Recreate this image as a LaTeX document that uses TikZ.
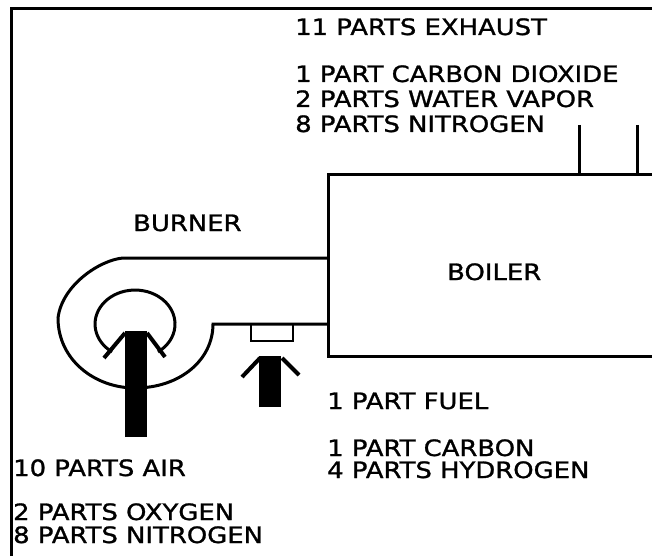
\documentclass[tikz,border=0pt]{standalone}
\usepackage{fontspec}
\setmainfont{DejaVu Sans}[FakeStretch=1.15,FakeBold=1.2]
\usepackage{tikz}

\begin{document}
\begin{tikzpicture}[x=1pt,y=-1pt,
  wall/.style={line width=3pt},
  box line/.style={line width=2.5pt},
  shaft/.style={line width=22pt},
  barb/.style={line width=4pt},
  label text/.style={anchor=base west,inner sep=0pt,font=\fontsize{22.5}{26}\selectfont}]
  \useasboundingbox (0,0) rectangle (652,556);

  % frame
  \draw[wall] (11,556) -- (11,9) -- (652,9);

  % boiler and stacks
  \coordinate (boiler nw) at (328,174);
  \coordinate (boiler sw) at (328,356);
  \coordinate (stack a) at (579,125);
  \coordinate (stack b) at (637,125);
  \draw[wall] (652,174) -- (boiler nw) -- (boiler sw) -- (652,356);
  \draw[wall] (stack a) -- (stack a |- boiler nw);
  \draw[wall] (stack b) -- (stack b |- boiler nw);

  % burner
  \coordinate (duct top) at (328,258);
  \coordinate (duct bottom) at (328,324);
  \draw[wall] (duct top) -- (123,258)
    .. controls (100,260) and (62,285) .. (58,318)
    .. controls (58,360) and (95,388) .. (135,388)
    .. controls (180,388) and (213,360) .. (213,324) -- (duct bottom);
  \draw[wall] (112.1,351.9) arc[start angle=125,end angle=415,x radius=40,y radius=34];
  \draw[box line] (251,324) rectangle (293,341);

  % feed arrows
  \coordinate (air tip) at (136,331);
  \coordinate (air base) at (136,437);
  \coordinate (fuel tip) at (270,356);
  \coordinate (fuel base) at (270,407);
  \draw[shaft] (air base) -- (air tip);
  \draw[barb] ([shift={(-11,2)}]air tip) -- ++(-21,25);
  \draw[barb] ([shift={(11,2)}]air tip) -- ++(18,24);
  \draw[shaft] (fuel base) -- (fuel tip);
  \draw[barb] ([shift={(-10,2)}]fuel tip) -- ++(-18,19);
  \draw[barb] ([shift={(12,2)}]fuel tip) -- ++(17,17);

  \node[label text] (exhaust) at (295,35) {11 PARTS EXHAUST};
  \node[label text] (dioxide) at (295,82) {1 PART CARBON DIOXIDE};
  \node[label text] (vapor) at (295,107) {2 PARTS WATER VAPOR};
  \node[label text] (nitrogen out) at (295,132) {8 PARTS NITROGEN};
  \node[label text] (burner) at (133,231) {BURNER};
  \node[label text] (boiler) at (447,280) {BOILER};
  \node[label text] (fuel) at (327,409) {1 PART FUEL};
  \node[label text] (carbon) at (327,456) {1 PART CARBON};
  \node[label text] (hydrogen) at (327,478) {4 PARTS HYDROGEN};
  \node[label text] (air) at (13,476) {10 PARTS AIR};
  \node[label text] (oxygen) at (13,520) {2 PARTS OXYGEN};
  \node[label text] (nitrogen in) at (13,543) {8 PARTS NITROGEN};
\end{tikzpicture}
\end{document}
